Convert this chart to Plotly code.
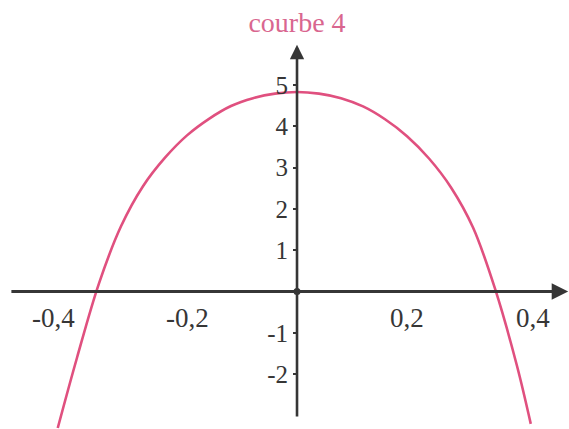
import plotly.graph_objects as go

# Points read along "courbe 4"
curve_x = [-0.435, -0.40, -0.36, -0.32, -0.28, -0.24, -0.20, -0.16, -0.12, -0.08, -0.04,
           0.0, 0.04, 0.08, 0.12, 0.16, 0.20, 0.24, 0.28, 0.32, 0.36, 0.40, 0.425]
curve_y = [-3.3, -1.6, 0.2, 1.58, 2.55, 3.24, 3.78, 4.18, 4.49, 4.68, 4.79,
           4.83, 4.79, 4.68, 4.48, 4.17, 3.76, 3.22, 2.52, 1.55, 0.07, -1.8, -3.2]

# Axis graduations
x_tick_vals = [-0.4, -0.2, 0.2, 0.4]
x_tick_text = ["-0,4", "-0,2", "0,2", "0,4"]
y_tick_vals = [-2, -1, 1, 2, 3, 4, 5]
y_tick_text = ["-2", "-1", "1", "2", "3", "4", "5"]

title_text = "courbe 4"

AXIS = "#363636"
CURVE = "#e0507f"
TITLE = "#d9668f"
SERIF = "Liberation Serif"

x_range = [-0.54, 0.4945]
y_range = [-3.324, 7.055]

fig = go.Figure()

fig.add_trace(go.Scatter(
    x=curve_x, y=curve_y, mode="lines",
    line=dict(color=CURVE, width=2.6, shape="spline", smoothing=1.0),
    hoverinfo="skip", showlegend=False,
))

# small dot at the origin
fig.add_trace(go.Scatter(
    x=[0], y=[0], mode="markers",
    marker=dict(color=AXIS, size=7), hoverinfo="skip", showlegend=False,
))

annotations = []

# axes drawn as arrows crossing at the origin
annotations.append(dict(
    x=0.493, y=0, ax=-0.522, ay=0, xref="x", yref="y", axref="x", ayref="y",
    text="", showarrow=True, arrowhead=2, arrowsize=1.1, arrowwidth=3, arrowcolor=AXIS,
))
annotations.append(dict(
    x=0, y=5.97, ax=0, ay=-3.06, xref="x", yref="y", axref="x", ayref="y",
    text="", showarrow=True, arrowhead=2, arrowsize=1.1, arrowwidth=2.6, arrowcolor=AXIS,
))

# x graduation labels under the horizontal axis
x_shift = {-0.4: -24, -0.2: 0, 0.2: 0, 0.4: 16}
for v, t in zip(x_tick_vals, x_tick_text):
    annotations.append(dict(
        x=v, y=0, xref="x", yref="y", text=t, showarrow=False,
        xanchor="center", yanchor="middle", xshift=x_shift[v], yshift=-26,
        font=dict(family=SERIF, size=27, color=AXIS),
    ))

fig.update_layout(
    width=569, height=429,
    margin=dict(l=0, r=0, t=0, b=0),
    paper_bgcolor="white", plot_bgcolor="white",
    title=dict(
        text=title_text, x=0.522, xanchor="center", y=0.948, yanchor="middle",
        font=dict(family=SERIF, size=28, color=TITLE),
    ),
    xaxis=dict(range=x_range, visible=False, fixedrange=True),
    yaxis=dict(
        range=y_range, anchor="free", position=297 / 569,
        showline=False, showgrid=False, zeroline=False,
        ticks="outside", ticklen=4, tickwidth=2, tickcolor=AXIS,
        tickvals=y_tick_vals, ticktext=y_tick_text,
        tickfont=dict(family=SERIF, size=25, color=AXIS),
        fixedrange=True,
    ),
    annotations=annotations,
    showlegend=False,
)

fig.write_html("out.html")
